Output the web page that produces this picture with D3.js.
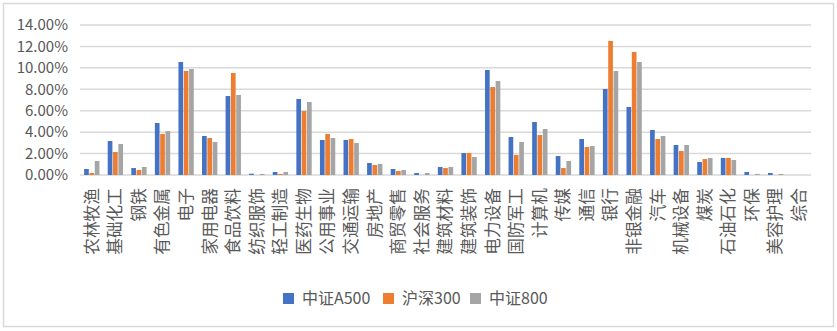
<!DOCTYPE html>
<html lang="zh">
<head>
  <meta charset="UTF-8" />
  <title>行业权重对比</title>
  <script src="https://cdn.jsdelivr.net/npm/d3@7/dist/d3.min.js"></script>
  <style>
    body {
      margin: 0;
      background: #fff;
    }
    text {
      font-family: "Noto Sans CJK SC", "Noto Sans", sans-serif;
      fill: #595959;
    }
  </style>
</head>
<body>
  <div id="chart"></div>
  <script>
    // industries (申万一级)
    var categories = ["农林牧渔", "基础化工", "钢铁", "有色金属", "电子", "家用电器", "食品饮料",
      "纺织服饰", "轻工制造", "医药生物", "公用事业", "交通运输", "房地产", "商贸零售", "社会服务",
      "建筑材料", "建筑装饰", "电力设备", "国防军工", "计算机", "传媒", "通信", "银行", "非银金融",
      "汽车", "机械设备", "煤炭", "石油石化", "环保", "美容护理", "综合"];

    // weights in %
    var a500 = [0.56, 3.17, 0.65, 4.85, 10.55, 3.64, 7.37, 0.12, 0.28, 7.09, 3.27, 3.27, 1.12, 0.56, 0.19,
      0.75, 2.05, 9.80, 3.55, 4.95, 1.77, 3.36, 8.03, 6.35, 4.20, 2.80, 1.21, 1.59, 0.28, 0.19, 0];
    var hs300 = [0.19, 2.15, 0.47, 3.83, 9.71, 3.45, 9.52, 0, 0.10, 5.97, 3.83, 3.36, 0.93, 0.37, 0,
      0.65, 2.05, 8.21, 1.87, 3.73, 0.65, 2.61, 12.51, 11.48, 3.36, 2.24, 1.49, 1.59, 0, 0, 0];
    var zz800 = [1.31, 2.89, 0.75, 4.10, 9.89, 3.08, 7.47, 0.10, 0.28, 6.81, 3.45, 2.99, 1.03, 0.47, 0.19,
      0.75, 1.68, 8.77, 3.08, 4.29, 1.31, 2.71, 9.71, 10.55, 3.64, 2.80, 1.59, 1.40, 0.10, 0.10, 0];

    var seriesNames = ["中证A500", "沪深300", "中证800"];
    var seriesColors = ["#4472C4", "#ED7D31", "#A5A5A5"];
    var yTicks = [0, 2, 4, 6, 8, 10, 12, 14];

    var w = 837;
    var h = 331;

    var svg = d3.select("#chart")
      .append("svg")
      .attr("width", w)
      .attr("height", h);

    // chart border
    svg.append("rect")
      .attr("x", 3.5)
      .attr("y", 3.5)
      .attr("width", 830)
      .attr("height", 323)
      .attr("fill", "#fff")
      .attr("stroke", "#d9d9d9")
      .attr("stroke-width", 1.5);

    var x = d3.scaleBand()
      .domain(categories)
      .range([80, 811])
      .paddingInner(0.35)
      .paddingOuter(0.175);

    var xs = d3.scaleBand()
      .domain(seriesNames)
      .range([0, x.bandwidth()])
      .paddingInner(0.12);

    var y = d3.scaleLinear()
      .domain([0, 14])
      .range([175, 25]);

    // gridlines
    svg.append("g")
      .selectAll("line")
      .data(yTicks)
      .enter()
      .append("line")
      .attr("x1", 80)
      .attr("x2", 811)
      .attr("y1", function(d) { return y(d); })
      .attr("y2", function(d) { return y(d); })
      .attr("stroke", "#d9d9d9")
      .attr("stroke-width", 1.5);

    // y labels
    svg.append("g")
      .selectAll("text")
      .data(yTicks)
      .enter()
      .append("text")
      .attr("x", 68)
      .attr("y", function(d) { return y(d); })
      .attr("dy", "0.35em")
      .attr("text-anchor", "end")
      .attr("font-size", "15px")
      .text(function(d) { return d3.format(".2f")(d) + "%"; });

    // bars
    var allSeries = [a500, hs300, zz800];
    allSeries.forEach(function(vals, si) {
      svg.append("g")
        .attr("fill", seriesColors[si])
        .selectAll("rect")
        .data(vals)
        .enter()
        .append("rect")
        .attr("x", function(d, i) { return x(categories[i]) + xs(seriesNames[si]); })
        .attr("y", function(d) { return y(d); })
        .attr("width", xs.bandwidth())
        .attr("height", function(d) { return y(0) - y(d); });
    });

    // x labels, rotated
    svg.append("g")
      .selectAll("text")
      .data(categories)
      .enter()
      .append("text")
      .attr("transform", function(d) {
        return "translate(" + (x(d) + x.bandwidth() / 2) + ",188) rotate(-90)";
      })
      .attr("dy", "0.35em")
      .attr("text-anchor", "end")
      .attr("font-size", "16.7px")
      .text(function(d) { return d; });

    // legend
    var legendX = [283, 383, 470];
    var legend = svg.append("g");
    seriesNames.forEach(function(name, i) {
      legend.append("rect")
        .attr("x", legendX[i])
        .attr("y", 293)
        .attr("width", 11)
        .attr("height", 11)
        .attr("fill", seriesColors[i]);
      legend.append("text")
        .attr("x", legendX[i] + 19)
        .attr("y", 298.5)
        .attr("dy", "0.35em")
        .attr("font-size", "16px")
        .text(name);
    });
  </script>
</body>
</html>
